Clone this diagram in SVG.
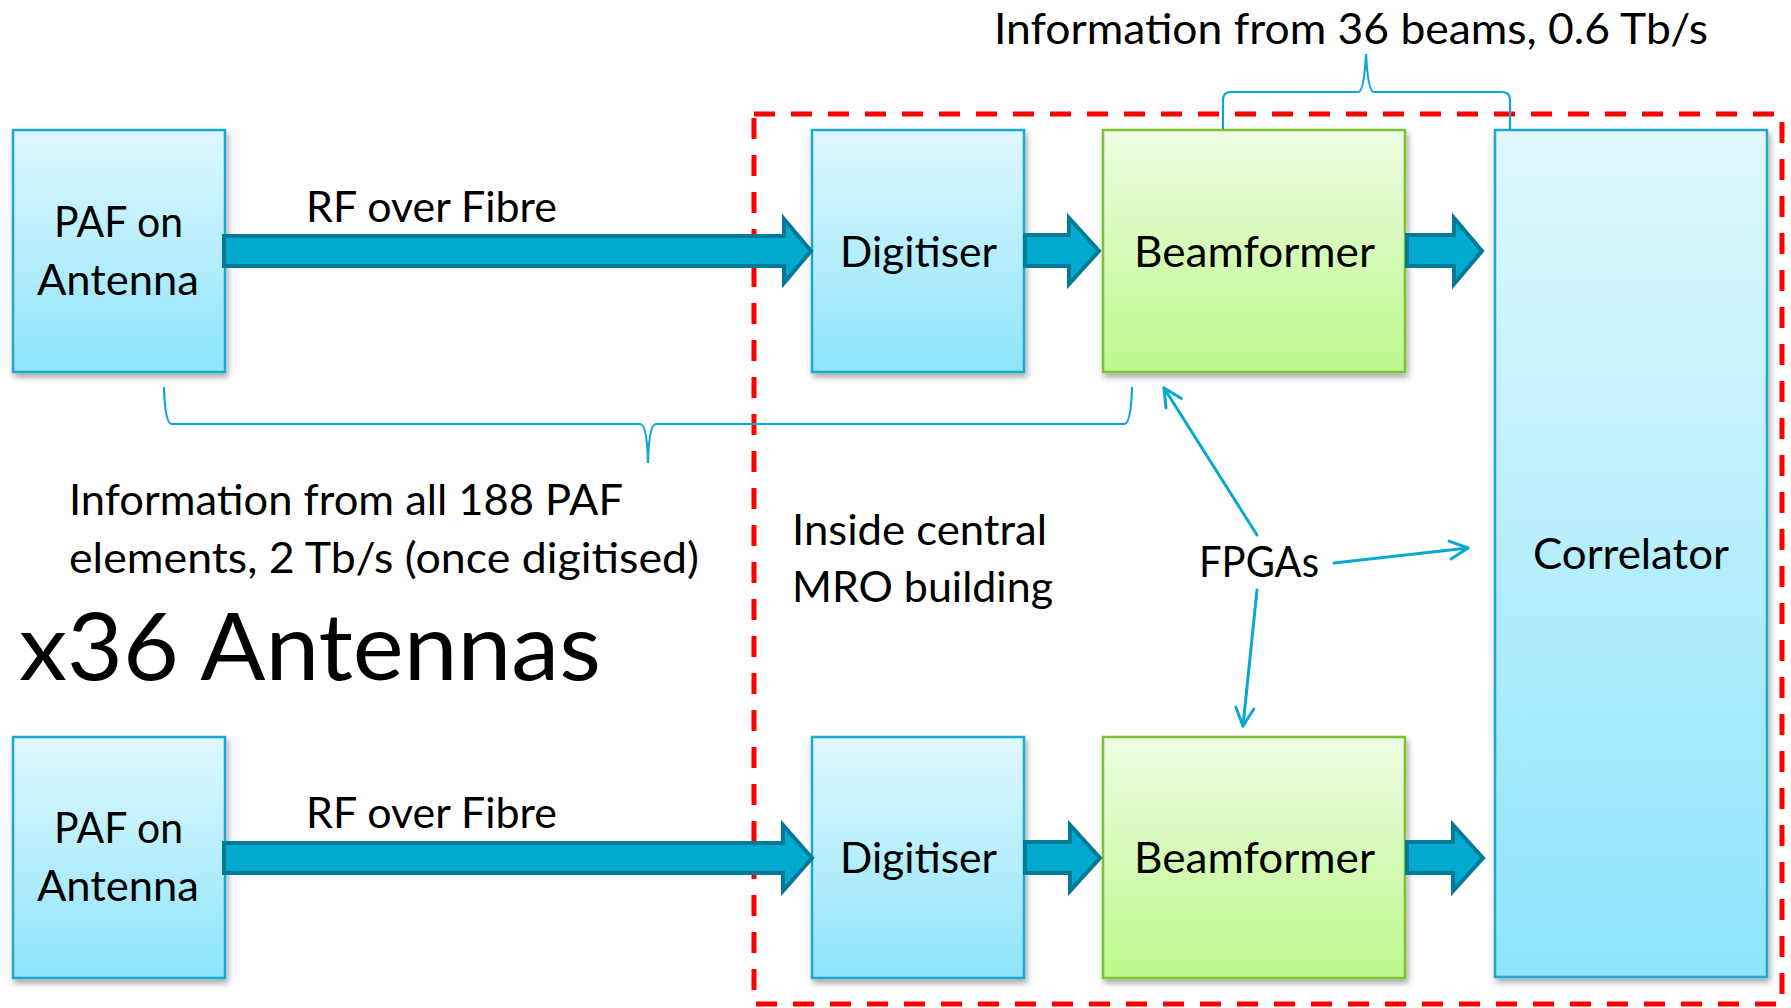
<svg xmlns="http://www.w3.org/2000/svg" width="1791" height="1008" viewBox="0 0 1791 1008">
  <style>
    .lbl { font-family: Lato, "Open Sans", "Liberation Sans", sans-serif; font-size: 42px; fill: #000; }
    .big { font-family: Lato, "Open Sans", "Liberation Sans", sans-serif; font-size: 94px; fill: #000; }
    .bbox { fill: url(#gBlue); stroke: #1BA8CF; stroke-width: 2.5; filter: url(#shadow); }
    .gbox { fill: url(#gGreen); stroke: #7CC230; stroke-width: 2.5; filter: url(#shadow); }
    .fat { fill: #00A9CD; stroke: #007A96; stroke-width: 4; stroke-linejoin: miter; }
    .thin { fill: none; stroke: #0AA8D0; stroke-width: 3; stroke-linecap: round; }
    .brace { fill: none; stroke: #0AA8D0; stroke-width: 2.2; }
    .frame { fill: none; stroke: #FF0000; stroke-width: 5; stroke-dasharray: 21 16; }
  </style>
  <defs>
    <linearGradient id="gBlue" x1="0" y1="0" x2="0" y2="1">
      <stop offset="0" stop-color="#E0F8FE"/>
      <stop offset="1" stop-color="#8DE4FA"/>
    </linearGradient>
    <linearGradient id="gGreen" x1="0" y1="0" x2="0" y2="1">
      <stop offset="0" stop-color="#EDFDE3"/>
      <stop offset="1" stop-color="#BDF88B"/>
    </linearGradient>
    <filter id="shadow" x="-10%" y="-10%" width="130%" height="130%">
      <feDropShadow dx="2" dy="4" stdDeviation="3" flood-color="#000" flood-opacity="0.35"/>
    </filter>
    <marker id="open" markerUnits="userSpaceOnUse" markerWidth="24" markerHeight="24" viewBox="0 0 24 24" refX="21" refY="12" orient="auto">
      <path d="M3,3 L21,12 L3,21" fill="none" stroke="#0AA8D0" stroke-width="3" stroke-linecap="round" stroke-linejoin="round"/>
    </marker>
  </defs>

  <rect width="1791" height="1008" fill="#FFFFFF"/>

  <!-- Container: inside central MRO building -->
  <g id="mro-building">
    <rect class="frame" x="754" y="114" width="1028" height="890"/>
  </g>

  <!-- Nodes -->
  <g id="paf-top">
    <rect class="bbox" x="13" y="130" width="212" height="242"/>
    <text class="lbl" x="54" y="237" textLength="129" lengthAdjust="spacingAndGlyphs">PAF on</text>
    <text class="lbl" x="37" y="295" textLength="162" lengthAdjust="spacingAndGlyphs">Antenna</text>
  </g>
  <g id="digitiser-top">
    <rect class="bbox" x="812" y="130" width="212" height="242"/>
    <text class="lbl" x="840" y="267" textLength="157" lengthAdjust="spacingAndGlyphs">Digitiser</text>
  </g>
  <g id="beamformer-top">
    <rect class="gbox" x="1103" y="130" width="302" height="242"/>
    <text class="lbl" x="1134" y="267" textLength="241" lengthAdjust="spacingAndGlyphs">Beamformer</text>
  </g>
  <g id="paf-bottom">
    <rect class="bbox" x="13" y="737" width="212" height="241"/>
    <text class="lbl" x="54" y="843" textLength="129" lengthAdjust="spacingAndGlyphs">PAF on</text>
    <text class="lbl" x="37" y="901" textLength="162" lengthAdjust="spacingAndGlyphs">Antenna</text>
  </g>
  <g id="digitiser-bottom">
    <rect class="bbox" x="812" y="737" width="212" height="241"/>
    <text class="lbl" x="840" y="873" textLength="157" lengthAdjust="spacingAndGlyphs">Digitiser</text>
  </g>
  <g id="beamformer-bottom">
    <rect class="gbox" x="1103" y="737" width="302" height="241"/>
    <text class="lbl" x="1134" y="873" textLength="241" lengthAdjust="spacingAndGlyphs">Beamformer</text>
  </g>
  <g id="correlator">
    <rect class="bbox" x="1495" y="130" width="272" height="847"/>
    <text class="lbl" x="1533" y="569" textLength="196" lengthAdjust="spacingAndGlyphs">Correlator</text>
  </g>
  <g id="fpgas">
    <text class="lbl" x="1199" y="577" textLength="120" lengthAdjust="spacingAndGlyphs">FPGAs</text>
  </g>

  <!-- Free labels -->
  <g id="labels">
    <text class="lbl" x="994" y="44" textLength="714" lengthAdjust="spacingAndGlyphs">Information from 36 beams, 0.6 Tb/s</text>
    <text class="lbl" x="306" y="222" textLength="251" lengthAdjust="spacingAndGlyphs">RF over Fibre</text>
    <text class="lbl" x="306" y="828" textLength="251" lengthAdjust="spacingAndGlyphs">RF over Fibre</text>
    <text class="lbl" x="69" y="515" textLength="554" lengthAdjust="spacingAndGlyphs">Information from all 188 PAF</text>
    <text class="lbl" x="69" y="573" textLength="630" lengthAdjust="spacingAndGlyphs">elements, 2 Tb/s (once digitised)</text>
    <text class="lbl" x="792" y="545" textLength="255" lengthAdjust="spacingAndGlyphs">Inside central</text>
    <text class="lbl" x="792" y="602" textLength="261" lengthAdjust="spacingAndGlyphs">MRO building</text>
    <text class="big" x="19" y="680" textLength="582" lengthAdjust="spacingAndGlyphs">x36 Antennas</text>
  </g>

  <!-- Connectors -->
  <g id="connectors">
    <!-- block arrows, top row (centre y 251) -->
    <path class="fat" d="M224,236 H784 V219 L811,251 L784,283 V266 H224 Z"/>
    <path class="fat" d="M1025,235 H1069 V218 L1099,251 L1069,284 V266 H1025 Z"/>
    <path class="fat" d="M1407,235 H1454 V218 L1482,251 L1454,284 V266 H1407 Z"/>
    <!-- block arrows, bottom row (centre y 858) -->
    <path class="fat" d="M224,843 H783 V825 L812,858 L783,891 V873 H224 Z"/>
    <path class="fat" d="M1025,842 H1070 V825 L1100,858 L1070,891 V873 H1025 Z"/>
    <path class="fat" d="M1407,842 H1453 V825 L1483,858 L1453,891 V873 H1407 Z"/>

    <!-- braces -->
    <path class="brace" d="M1223,129 V100 Q1223,92 1231,92 H1358 Q1364,92 1366,54 Q1368,92 1374,92 H1502 Q1510,92 1510,100 V129"/>
    <path class="brace" d="M164,387 Q165,424 172,424 H640 Q647,424 648,463 Q649,424 656,424 H1124 Q1131,424 1132,387"/>

    <!-- FPGA pointers -->
    <line class="thin" x1="1257" y1="535" x2="1164" y2="388" marker-end="url(#open)"/>
    <line class="thin" x1="1334" y1="563" x2="1468" y2="548" marker-end="url(#open)"/>
    <line class="thin" x1="1257" y1="590" x2="1243" y2="726" marker-end="url(#open)"/>
  </g>
</svg>
